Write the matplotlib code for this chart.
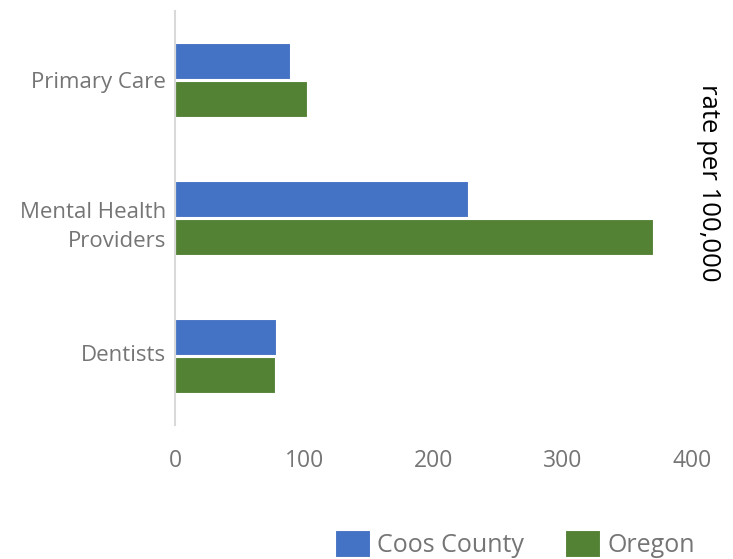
import matplotlib
matplotlib.use('Agg')
import matplotlib.pyplot as plt
from matplotlib.transforms import blended_transform_factory, ScaledTranslation
import numpy as np

categories = ['Primary Care', 'Mental Health\nProviders', 'Dentists']
coos = [89, 227, 78]
oregon = [102, 370, 77]
series_names = ['Coos County', 'Oregon']
xticks = [0, 100, 200, 300, 400]

plt.rcParams['font.family'] = ['Open Sans', 'DejaVu Sans']
gray = '#757575'

fig = plt.figure(figsize=(7.33, 5.59), dpi=100)
ax = fig.add_axes([175 / 733, 134 / 559, 517 / 733, 414 / 559])

y = np.arange(len(categories))
h = 0.262
ax.barh(y - 0.135, coos, height=h, color='#4472C4', edgecolor='white', linewidth=0.8,
        label=series_names[0])
ax.barh(y + 0.135, oregon, height=h, color='#548235', edgecolor='white', linewidth=0.8,
        label=series_names[1])

ax.set_xlim(0, 400)
ax.set_ylim(2.5, -0.5)
ax.set_yticks(y)
ax.set_yticklabels([])
ax.set_xticks(xticks)
ax.set_xticklabels([str(t) for t in xticks], fontsize=16.5, color=gray)
ax.tick_params(axis='both', length=0)
ax.tick_params(axis='x', pad=17)

# category labels drawn as text so the two-line label can sit a bit lower, as in the original
trans = blended_transform_factory(ax.transAxes, ax.transData)
shifts = [-2, -9, 1]  # pixels downward
for yi, lab, s in zip(y, categories, shifts):
    off = ScaledTranslation(-9 / 100, s / 100, fig.dpi_scale_trans)
    ax.text(0, yi, lab, transform=trans + off, ha='right', va='center',
            fontsize=16, color=gray, linespacing=1.45, multialignment='right')

for side in ['top', 'right', 'bottom']:
    ax.spines[side].set_visible(False)
ax.spines['left'].set_color('#d9d9d9')
ax.spines['left'].set_linewidth(1.5)

fig.text(708 / 733, 1 - 183 / 559, 'rate per 100,000', rotation=270,
         ha='center', va='center', fontsize=18.5, color='black')

fig.legend(loc='center', bbox_to_anchor=(515 / 733, 15 / 559), ncol=2, frameon=False,
           fontsize=18, labelcolor=gray, handlelength=1.4, handleheight=1.28,
           handletextpad=0.28, columnspacing=1.64)

fig.savefig('out.png', dpi=100)
